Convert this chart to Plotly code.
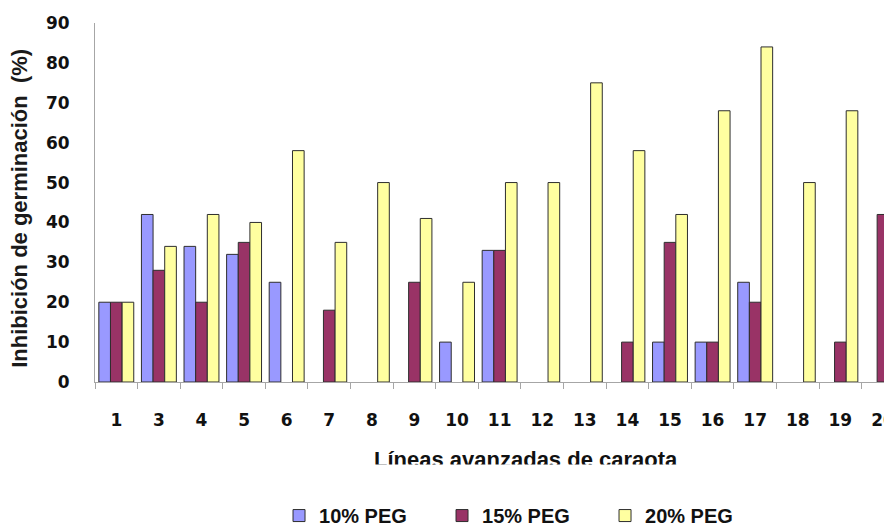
import plotly.graph_objects as go

# ---- data ----
categories = ["1", "3", "4", "5", "6", "7", "8", "9", "10", "11",
              "12", "13", "14", "15", "16", "17", "18", "19", "20"]
peg10 = [20, 42, 34, 32, 25, None, None, None, 10, 33,
         None, None, None, 10, 10, 25, None, None, None]
peg15 = [20, 28, 20, 35, None, 18, None, 25, None, 33,
         None, None, 10, 35, 10, 20, None, 10, 42]
peg20 = [20, 34, 42, 40, 58, 35, 50, 41, 25, 50,
         50, 75, 58, 42, 68, 84, 50, 68, 75]
series_names = ["10% PEG", "15% PEG", "20% PEG"]
y_ticks = [0, 10, 20, 30, 40, 50, 60, 70, 80, 90]

colors = ["#9999FF", "#993366", "#FFFFA0"]

fig = go.Figure()
for name, vals, col in zip(series_names, [peg10, peg15, peg20], colors):
    fig.add_bar(
        x=categories, y=vals, name=name,
        marker=dict(color=col, line=dict(color="#2e2e2e", width=1)),
    )

axis_col = "#a6a6a6"
fig.update_layout(
    width=892, height=527,
    margin=dict(l=87, r=0, t=15, b=153, autoexpand=False),
    paper_bgcolor="white", plot_bgcolor="white",
    barmode="group", bargap=0.18, bargroupgap=0,
    showlegend=True,
    legend=dict(
        orientation="h", x=0.2286, xanchor="left", y=-0.372, yanchor="middle",
        font=dict(family="Liberation Sans", size=20, color="#111111", weight="bold"),
        itemwidth=30, tracegroupgap=0, entrywidth=118,
    ),
    xaxis=dict(
        type="category", range=[-0.5, 18.4], automargin=False,
        showline=True, linecolor=axis_col, linewidth=1,
        ticks="outside", tickson="boundaries", ticklen=6, tickcolor=axis_col,
        tickfont=dict(family="DejaVu Sans", size=17, color="#111111", weight="bold"),
        ticklabelstandoff=23,
        showgrid=False, zeroline=False,
    ),
    # labelled value axis: long transparent ticks push the labels away from the axis line
    yaxis=dict(
        range=[0, 90], tickvals=y_ticks, automargin=False,
        showline=True, linecolor=axis_col, linewidth=1,
        ticks="outside", ticklen=21, tickcolor="rgba(0,0,0,0)",
        tickfont=dict(family="DejaVu Sans", size=17, color="#111111", weight="bold"),
        showgrid=False, zeroline=False,
    ),
    # overlay axis that only draws the short visible tick marks
    yaxis2=dict(
        overlaying="y", anchor="x", side="left",
        range=[0, 90], tickvals=y_ticks, automargin=False,
        ticks="outside", ticklen=7, tickcolor=axis_col,
        showticklabels=False, showline=False, showgrid=False, zeroline=False,
    ),
    annotations=[
        dict(
            text="Inhibición de germinación  (%)", textangle=-90,
            xref="paper", yref="paper", x=-0.0932, y=0.485,
            xanchor="center", yanchor="middle", showarrow=False,
            font=dict(family="Liberation Sans", size=22, color="#1a1a1a", weight="bold"),
        ),
        dict(
            text="Líneas avanzadas de caraota",
            xref="paper", yref="paper", x=0.536, y=-0.217,
            xanchor="center", yanchor="middle", showarrow=False,
            font=dict(family="Liberation Sans", size=22, color="#111111", weight="bold"),
        ),
        # white strip hiding the lower part of the x-axis title (cropped in the reference)
        dict(
            text=" ", xref="paper", yref="paper", x=0.536, y=-0.252,
            xanchor="center", yanchor="middle", showarrow=False,
            width=380, height=15, bgcolor="white", borderpad=0,
        ),
    ],
)

fig.write_html("out.html")
